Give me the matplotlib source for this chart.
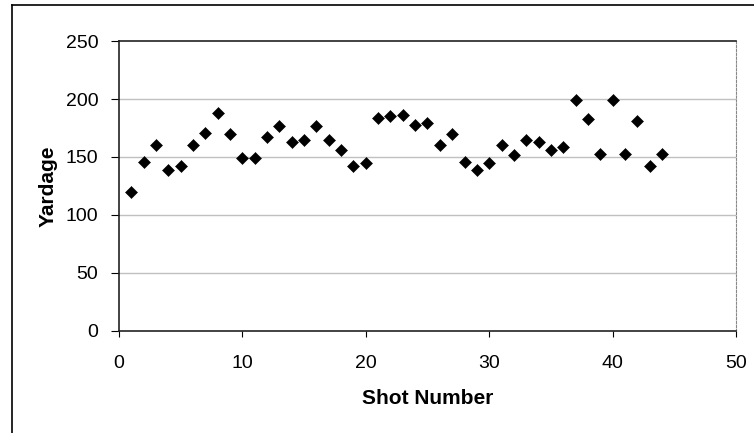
"""
Shot yardage scatter, Excel-style
"""

from matplotlib import pyplot as plt
from matplotlib.lines import Line2D

shots = list(range(1, 45))
yardage = [120, 146, 160, 139, 142, 160, 171, 188, 170, 149,
           149, 167, 177, 163, 165, 177, 165, 156, 142, 145,
           184, 185, 186, 178, 179, 160, 170, 146, 139, 145,
           160, 152, 165, 163, 156, 159, 199, 183, 153, 199,
           153, 181, 142, 153]

x_ticks = [0, 10, 20, 30, 40, 50]
y_ticks = [0, 50, 100, 150, 200, 250]

plt.rcParams['font.family'] = ['Liberation Sans', 'DejaVu Sans']

fig = plt.figure(figsize=(7.54, 4.33), dpi=100)
ax = fig.add_axes([0.1578, 0.2356, 0.9761 - 0.1578, 0.9053 - 0.2356])

ax.plot(shots, yardage, "D", ms=5.8, mew=0.4, color="black", zorder=3)

ax.set_xlim(0, 50)
ax.set_ylim(0, 250)
ax.set_xticks(x_ticks)
ax.set_yticks(y_ticks)
ax.tick_params(axis="x", direction="out", length=4, pad=13, labelsize=14)
ax.tick_params(axis="y", direction="out", length=6, pad=9, labelsize=14)

# gridlines, grey like the old Excel default
for v in y_ticks[1:-1]:
    ax.axhline(v, color="#c0c0c0", lw=1, zorder=1)

for s in ("left", "bottom", "top"):
    ax.spines[s].set_color("#222222")
    ax.spines[s].set_linewidth(1.2)
ax.spines["right"].set_color("#888888")
ax.spines["right"].set_linestyle((0, (2, 1.5)))

ax.set_xlabel("Shot Number", fontsize=15, fontweight="bold")
ax.set_ylabel("Yardage", fontsize=15, fontweight="bold")
ax.xaxis.set_label_coords(0.5, -0.2)
ax.yaxis.set_label_coords(-0.1, 0.5)

# outer chart frame (cut off on the right and bottom)
fig.add_artist(Line2D([0.0159, 0.0159], [0.0, 0.9885], color="black", lw=1.2))
fig.add_artist(Line2D([0.0159, 1.0], [0.9885, 0.9885], color="black", lw=1.2))

fig.savefig("out.png", dpi=100)
